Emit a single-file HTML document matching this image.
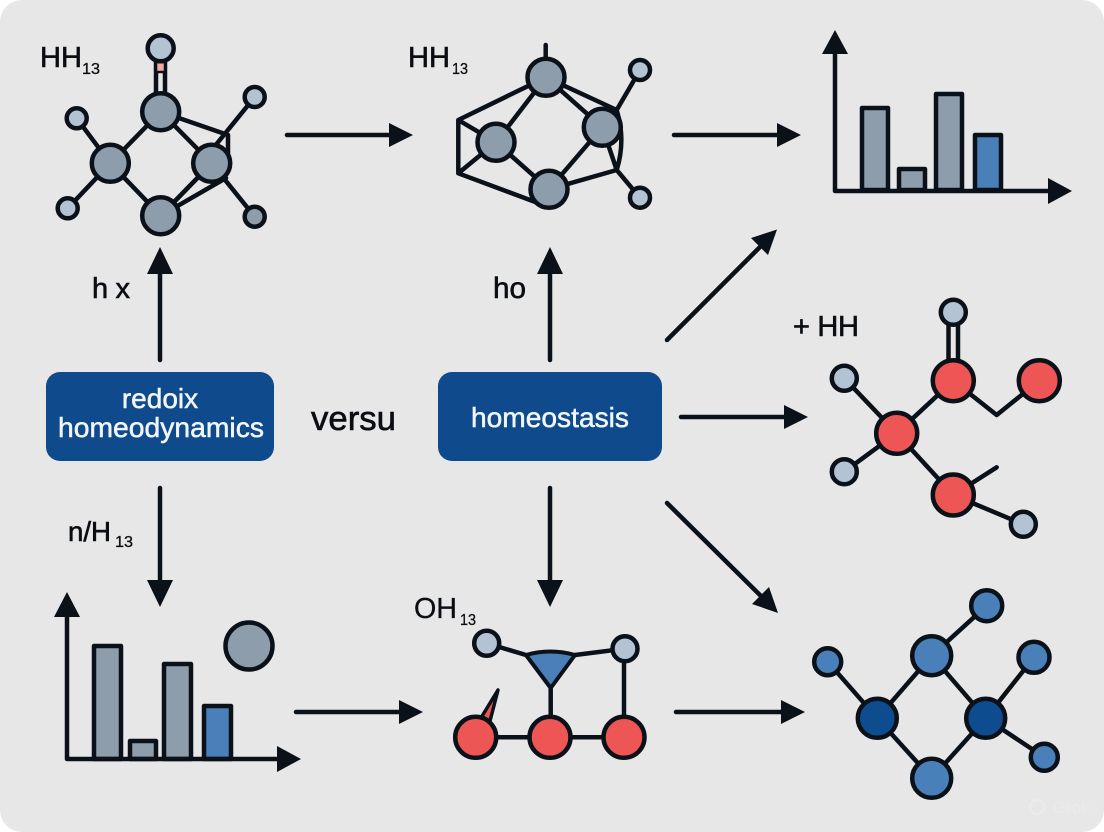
<!DOCTYPE html>
<html><head><meta charset="utf-8"><style>
html,body{margin:0;padding:0;background:#fff;width:1104px;height:832px;overflow:hidden}
svg{display:block}
text{font-family:"Liberation Sans",sans-serif;fill:#0a0d12}
.t{stroke:#0a0d12;stroke-width:.6}
.w{fill:#f2f6fa;stroke:#f2f6fa;stroke-width:.5}
.l{stroke:#0b1118;stroke-width:4.500;fill:none;stroke-linecap:round;stroke-linejoin:round}
.a{fill:#0b1118;stroke:none}
.n{stroke:#0b1118;stroke-width:4.500}
.g{fill:#8e9dac}.s{fill:#b4c3d3}.r{fill:#ee5555}.b{fill:#4a80b9}.d{fill:#0e4c90}
</style></head><body>
<svg width="1104" height="832" viewBox="0 0 1104 832" xmlns="http://www.w3.org/2000/svg">
<rect width="1104" height="832" rx="22" fill="#e7e7e8"/>

<!-- arrows -->
<g class="l">
<path d="M287 135H392M674 135H780M160 360V268M550 360V268M667 340L762 245M681 417H787M160 488V586M550 488V586M667 503L762 597M296 712H402M676 712H784"/>
</g>
<g class="a">
<path d="M413 135L389 123V147Z"/><path d="M801 135L777 123V147Z"/>
<path d="M160 247L147 274H173Z"/><path d="M550 247L537 274H563Z"/>
<path d="M777 229.500L751 238L768 255Z"/>
<path d="M808 417L784 405V429Z"/>
<path d="M160 607L147 580H173Z"/><path d="M550 607L537 580H563Z"/>
<path d="M778 613L769 587L752 604Z"/>
<path d="M423 712L399 700V724Z"/><path d="M805 712L781 700V724Z"/>
</g>

<!-- boxes -->
<rect x="46" y="372" width="228" height="89" rx="14" fill="#0e4a8c"/>
<rect x="438" y="372" width="224" height="89" rx="14" fill="#0e4a8c"/>
<text class="w" x="160" y="408" font-size="28" text-anchor="middle">redoix</text>
<text class="w" x="161" y="437" font-size="28" text-anchor="middle" textLength="206" lengthAdjust="spacingAndGlyphs">homeodynamics</text>
<text class="w" x="550" y="427" font-size="28" text-anchor="middle" textLength="158" lengthAdjust="spacingAndGlyphs">homeostasis</text>
<text class="t" x="311" y="430" font-size="34" textLength="85" lengthAdjust="spacingAndGlyphs">versu</text>

<!-- labels -->
<text class="t" x="40" y="67" font-size="29">HH</text><text class="t" style="stroke-width:.3" x="82" y="74" font-size="16" textLength="18" lengthAdjust="spacingAndGlyphs">13</text>
<text class="t" x="408" y="67" font-size="29">HH</text><text class="t" style="stroke-width:.3" x="452" y="74" font-size="16" textLength="16" lengthAdjust="spacingAndGlyphs">13</text>
<text class="t" x="92" y="298" font-size="29" textLength="38" lengthAdjust="spacing">h x</text>
<text class="t" x="493" y="298" font-size="30" textLength="33" lengthAdjust="spacingAndGlyphs">ho</text>
<text class="t" x="793" y="336" font-size="29" textLength="66" lengthAdjust="spacing">+ HH</text>
<text class="t" x="68" y="541" font-size="28" textLength="43" lengthAdjust="spacingAndGlyphs">n/H</text><text class="t" style="stroke-width:.3" x="115" y="547" font-size="16" textLength="18" lengthAdjust="spacingAndGlyphs">13</text>
<text class="t" style="stroke-width:.3" x="414" y="618" font-size="29" textLength="43" lengthAdjust="spacingAndGlyphs">OH</text><text class="t" style="stroke-width:.3" x="460" y="625" font-size="16" textLength="16" lengthAdjust="spacingAndGlyphs">13</text>

<!-- molecule 1 -->
<g class="l">
<path d="M156 58V95M165 58V95"/>
<path d="M76.700 118.300L110.300 163.300M67.700 208.300L110.300 163.300M110.300 163.300L160.700 111.700L211.700 163.300L160.700 215.700L110.300 163.300"/>
<path d="M160.700 111.700L228 135V170M254.700 97L211.700 150M211.700 163.300L254.700 216.700M160.700 215.700L226 178M160.700 215.700L211.700 163.300"/>
</g>
<rect x="156" y="62" width="9" height="10" fill="#f0a9a6" stroke="#0b1118" stroke-width="2.500"/>
<g class="n">
<circle class="s" cx="160.700" cy="48.300" r="13"/>
<circle class="g" cx="160.700" cy="111.700" r="18.500"/>
<circle class="g" cx="110.300" cy="163.300" r="18.500"/>
<circle class="g" cx="211.700" cy="163.300" r="18.500"/>
<circle class="g" cx="160.700" cy="215.700" r="18.500"/>
<circle class="s" cx="76.700" cy="118.300" r="10"/>
<circle class="s" cx="254.700" cy="97" r="10"/>
<circle class="s" cx="67.700" cy="208.300" r="10"/>
<circle class="g" cx="254.700" cy="216.700" r="10"/>
</g>

<!-- molecule 2 -->
<g class="l">
<path d="M545.700 45V62"/>
<path d="M546 77.300L458.300 120V173.300L538 203M546 77.300L496 142.300M458.300 120L496 142.300M458.300 173.300L496 142.300L549 189.300L602.300 127.300L546 77.300"/>
<path d="M546 77.300L616.700 110Q626 140 616.700 170L549 189.300M602.300 127.300L616.700 170L640 197.700M616.700 110L640 70"/>
</g>
<g class="n">
<circle class="g" cx="546" cy="77.300" r="18.500"/>
<circle class="g" cx="496" cy="142.300" r="18.500"/>
<circle class="g" cx="602.300" cy="127.300" r="18.500"/>
<circle class="g" cx="549" cy="189.300" r="18.500"/>
<circle class="s" cx="640" cy="70" r="10"/>
<circle class="s" cx="640" cy="197.700" r="10"/>
</g>

<!-- chart top right -->
<g class="n" stroke-linejoin="round">
<rect class="g" x="862" y="108" width="26" height="82"/>
<rect class="g" x="899" y="169" width="26" height="21"/>
<rect class="g" x="936" y="94" width="26" height="96"/>
<rect class="b" x="975" y="135" width="26" height="55"/>
</g>
<path class="l" d="M835 50V191H1052"/>
<path class="a" d="M835 30L822 54H848Z"/><path class="a" d="M1072 191L1048 178V204Z"/>

<!-- chart bottom left -->
<g class="n" stroke-linejoin="round">
<rect class="g" x="94" y="646" width="27" height="113"/>
<rect class="g" x="130" y="741" width="26" height="18"/>
<rect class="g" x="164" y="664" width="27" height="95"/>
<rect class="b" x="204" y="706" width="27" height="53"/>
<circle class="g" cx="249" cy="646" r="23.500"/>
</g>
<path class="l" d="M67 612V759H282"/>
<path class="a" d="M67 592L54 617H80Z"/><path class="a" d="M301 759L277 746V772Z"/>

<!-- molecule red -->
<g class="l">
<path d="M948.500 322V362M958 322V362"/>
<path d="M844.300 378.300L896.700 433.300M844.300 471.700L896.700 433.300M896.700 433.300L953.300 380.700L996.700 415L1039.300 380.700M896.700 433.300L953.300 495M953.300 495L996.700 467.300M953.300 495L1023.300 524.300"/>
</g>
<g class="n">
<circle class="s" cx="953.300" cy="312.300" r="12.500"/>
<circle class="r" cx="953.300" cy="380.700" r="20.500"/>
<circle class="r" cx="1039.300" cy="380.700" r="20.500"/>
<circle class="r" cx="896.700" cy="433.300" r="20.500"/>
<circle class="r" cx="953.300" cy="495" r="20.500"/>
<circle class="s" cx="844.300" cy="378.300" r="12.500"/>
<circle class="s" cx="844.300" cy="471.700" r="12.500"/>
<circle class="s" cx="1023.300" cy="524.300" r="12.500"/>
</g>

<!-- molecule bottom mid -->
<g class="l">
<path d="M486.700 643.300L526 655M575 655L625 648.700M550.700 688V737M624 648.700V737M475.700 737.300H624"/>
</g>
<path d="M481.500 717L498 690L490 721Z" fill="#ee5555" stroke="#0b1118" stroke-width="3.500" stroke-linejoin="round"/>
<path d="M526 655Q550 648 575 655L550.700 688Z" fill="#4a80b9" stroke="#0b1118" stroke-width="4" stroke-linejoin="round"/>
<g class="n">
<circle class="s" cx="486.700" cy="643.300" r="12.500"/>
<circle class="s" cx="625" cy="648.700" r="12.500"/>
<circle class="r" cx="475.700" cy="737.300" r="20.500"/>
<circle class="r" cx="550" cy="737.300" r="20.500"/>
<circle class="r" cx="624" cy="737.300" r="20.500"/>
</g>

<!-- molecule blue -->
<g class="l">
<path d="M986.700 605.700L931.700 655.700L877.300 718.300L931.700 778.300L985.700 718.300L931.700 655.700M827.700 661.700L877.300 718.300M1034 657.300L985.700 718.300L1044.300 757.300"/>
</g>
<g class="n">
<circle class="b" cx="986.700" cy="605.700" r="15.500"/>
<circle class="b" cx="931.700" cy="655.700" r="19.500"/>
<circle class="b" cx="827.700" cy="661.700" r="13.500"/>
<circle class="b" cx="1034" cy="657.300" r="15.500"/>
<circle class="d" cx="877.300" cy="718.300" r="19.500"/>
<circle class="d" cx="985.700" cy="718.300" r="19.500"/>
<circle class="b" cx="931.700" cy="778.300" r="19.500"/>
<circle class="b" cx="1044.300" cy="757.300" r="13.500"/>
</g>

<!-- watermark -->
<circle cx="1037" cy="807" r="7" fill="none" stroke="#ececec" stroke-width="2"/>
<text x="1053" y="813" font-size="17" style="fill:#ebebeb">Grok</text>
</svg>
</body></html>
